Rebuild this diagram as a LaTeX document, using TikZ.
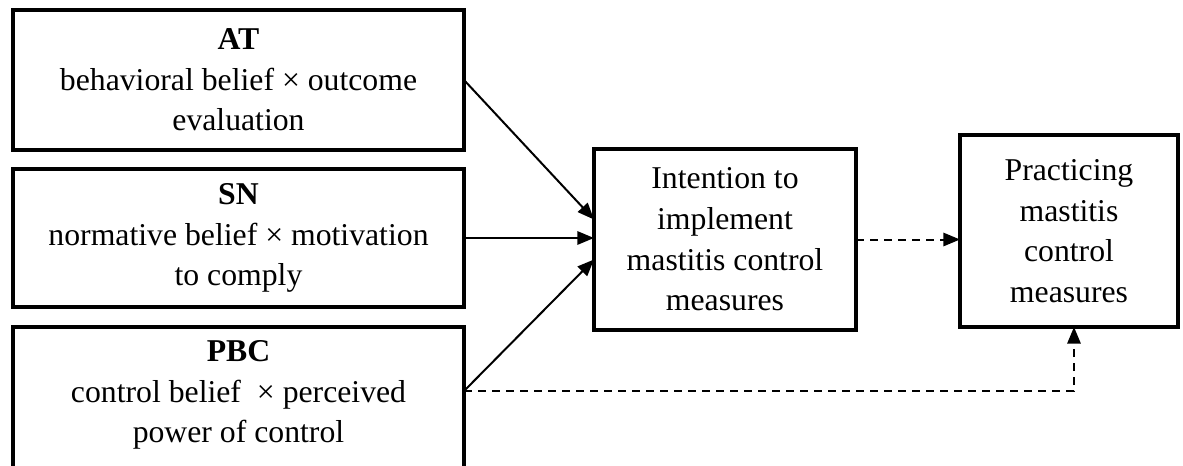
\documentclass[tikz,border=0pt]{standalone}
\usepackage{fontspec}
\setmainfont{Liberation Serif}
\usetikzlibrary{arrows.meta}
\begin{document}
\begin{tikzpicture}[x=0.75pt,y=-0.75pt,
  box/.style={draw, line width=3.6pt, inner sep=0pt, outer sep=0pt, align=center,
    font=\fontsize{23.8}{30.5}\selectfont},
  txt/.style={inner sep=0pt, align=center, font=\fontsize{23.8}{30.5}\selectfont},
  conn/.style={line width=1.5pt, -{Triangle[length=12.5pt,width=10pt]}},
  dconn/.style={conn, dash pattern=on 6pt off 4.5pt}]
\useasboundingbox (0,0) rectangle (1183,465);
\clip (0,0) rectangle (1183,465);
\node[box, minimum width=338.25pt, minimum height=105pt] (at) at (238.5,80)
  {\textbf{AT}\\behavioral belief × outcome\\evaluation};
\node[box, minimum width=338.25pt, minimum height=103.5pt] (sn) at (238.5,238)
  {\textbf{SN}\\normative belief × motivation\\to comply};
\node[box, minimum width=338.25pt, minimum height=112.5pt] (pbc) at (238.5,402) {};
\node[txt] (pbctext) at (238.5,395) {\textbf{PBC}\\control belief\ \ × perceived\\power of control};
\node[box, minimum width=196.5pt, minimum height=135.75pt] (int) at (725,239.5)
  {Intention to\\implement\\mastitis control\\measures};
\node[box, minimum width=163.5pt, minimum height=144pt] (prac) at (1069,231)
  {Practicing\\mastitis\\control\\measures};
\coordinate (pbcout) at ([yshift=8.25pt]pbc.east);
\draw[conn] (at.east) -- ([yshift=15pt]int.west);
\draw[conn] (sn.east) -- (sn.east -| int.west);
\draw[conn] (pbcout) -- ([yshift=-15pt]int.west);
\draw[dconn] (int.east) -- (int.east -| prac.west);
\draw[dconn] (pbcout) -| ([xshift=3.75pt]prac.south);
\end{tikzpicture}
\end{document}
